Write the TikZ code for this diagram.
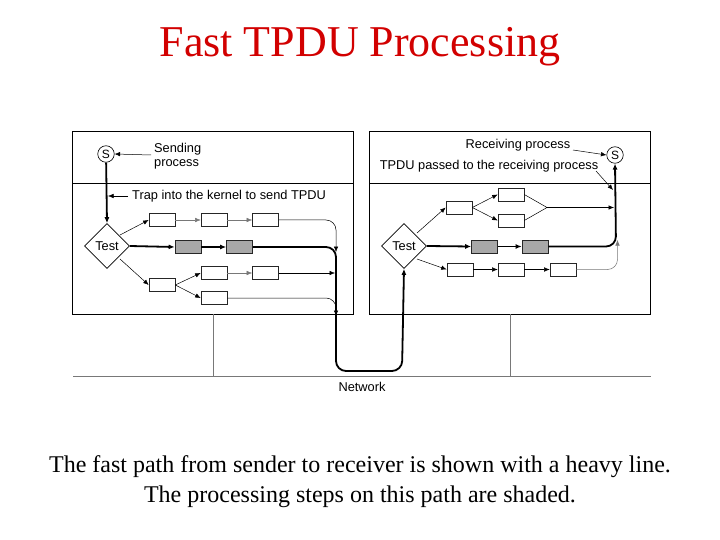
\documentclass[tikz,border=0pt]{standalone}
\usepackage{fontspec}
\setmainfont{Liberation Serif}
\newfontfamily\diagfont{Liberation Sans}
\usetikzlibrary{shapes.geometric,arrows.meta}
\definecolor{titlered}{RGB}{210,0,0}
\definecolor{shadefill}{RGB}{168,168,168}
\definecolor{thingray}{RGB}{120,120,120}
\begin{document}
\begin{tikzpicture}[x=1pt,y=-1pt,
  lbl/.style={font=\diagfont\fontsize{12.8}{14}\selectfont, inner sep=0pt},
  proc/.style={draw=black!85, rectangle, minimum width=26pt, minimum height=13pt, inner sep=0pt, line width=0.6pt, fill=white},
  shadedproc/.style={proc, fill=shadefill},
  testnode/.style={draw, diamond, shape aspect=1, minimum width=45pt, minimum height=45pt, inner sep=0pt, line width=0.6pt, font=\diagfont\fontsize{12.8}{14}\selectfont},
  procS/.style={draw, circle, minimum size=16.5pt, inner sep=0pt, line width=0.6pt, font=\diagfont\fontsize{12}{12}\selectfont},
  conn/.style={-{Latex[length=5.5pt,width=4.5pt]}, line width=0.5pt},
  gconn/.style={conn, draw=thingray},
  heavy/.style={line width=1.8pt},
  heavyarrow/.style={heavy, -{Latex[length=6pt,width=5pt]}},
  frame/.style={draw, line width=0.8pt},
  netline/.style={draw=thingray, line width=0.7pt}
]
\useasboundingbox (0,0) rectangle (720,540);

% title and caption
\node[text=titlered, font=\fontsize{44}{48}\selectfont, inner sep=0pt] (title) at (360,47) {Fast TPDU Processing};
\node[font=\fontsize{24}{30}\selectfont, align=center, inner sep=0pt] (caption) at (360,482)
  {The fast path from sender to receiver is shown with a heavy line.\\The processing steps on this path are shaded.};

% frames
\draw[frame] (72,131) rectangle (353,314);
\draw[frame] (72,183) -- (353,183);
\draw[frame] (369,131) rectangle (650,314);
\draw[frame] (369,183) -- (650,183);

% network
\draw[netline] (213,314) -- (213,376);
\draw[netline] (510,314) -- (510,376);
\draw[netline] (73,376) -- (651,376);
\node[lbl] (net) at (362,387) {Network};

% ---------------- left (sender) ----------------
\node[procS] (S1) at (106,154) {S};
\node[lbl, anchor=west, align=left] (sendtxt) at (154,156) {Sending\\process};
\node[lbl, anchor=west] (traptxt) at (132,196) {Trap into the kernel to send TPDU};
\node[testnode] (T1) at (107,246) {Test};

\node[proc] (a1) at (162,220) {};
\node[proc] (a2) at (214,220) {};
\node[proc] (a3) at (265.5,220) {};
\node[shadedproc] (b1) at (188,247) {};
\node[shadedproc] (b2) at (239.5,247) {};
\node[proc] (c1) at (162,285) {};
\node[proc] (c2) at (214,273) {};
\node[proc] (c3) at (265.5,273) {};
\node[proc] (d2) at (214,298) {};

\coordinate (t1ur) at (120,235);
\coordinate (t1lr) at (120,259);
\coordinate (trapend) at (108,196);
\coordinate (trapstart) at (128,196);
\coordinate (sendstart) at (151,155);
\coordinate (l1) at (336,220);
\coordinate (l1e) at (336,252);
\coordinate (l3e) at (335,273);
\coordinate (l4) at (336,298);
\coordinate (l4e) at (336,316);
\coordinate (u1) at (336,247);
\coordinate (u2) at (336,371);
\coordinate (u3) at (402,371);

\draw[heavyarrow] (S1) -- (T1.north);
\draw[conn] (trapstart) -- (trapend);
\draw[conn] (sendstart) -- (S1.east);
\draw[conn] (t1ur) -- (a1.west);
\draw[heavyarrow] (T1.east) -- (b1.west);
\draw[conn] (t1lr) -- (c1.west);
\draw[gconn] (a1) -- (a2);
\draw[gconn] (a2) -- (a3);
\draw[heavyarrow] (b1) -- (b2);
\draw[conn] (c1.east) -- (c2.west);
\draw[conn] (c1.east) -- (d2.west);
\draw[gconn] (c2) -- (c3);
\draw[conn, rounded corners=10pt] (a3.east) -- (l1) -- (l1e);
\draw[conn] (c3.east) -- (l3e);
\draw[conn, rounded corners=10pt] (d2.east) -- (l4) -- (l4e);

% heavy path through network
\node[testnode] (T2) at (404,246) {Test};
\draw[heavyarrow, rounded corners=10pt] (b2.east) -- (u1) -- (u2) -- (u3) -- (T2.south);

% ---------------- right (receiver) ----------------
\node[procS] (S2) at (615,155) {S};
\node[lbl] (rectxt) at (518,145) {Receiving process};
\node[lbl] (passtxt) at (489,166) {TPDU passed to the receiving process};

\node[proc] (e1) at (459,207.5) {};
\node[proc] (e2) at (511,194.5) {};
\node[proc] (e3) at (511,220.5) {};
\coordinate (m) at (547,207.5);
\node[shadedproc] (f1) at (484.5,246.5) {};
\node[shadedproc] (f2) at (535,246.5) {};
\node[proc] (g1) at (460,269.5) {};
\node[proc] (g2) at (511,269.5) {};
\node[proc] (g3) at (563,269.5) {};

\coordinate (t2ur) at (417,233);
\coordinate (t2lr) at (417,259);
\coordinate (me) at (614,207.5);
\coordinate (r2) at (616,246.5);
\coordinate (r3) at (617.5,269.5);
\coordinate (r3e) at (617.5,240);
\coordinate (recstart) at (573,150);
\coordinate (passstart) at (596,171);
\coordinate (passend) at (613,190);

\draw[conn] (t2ur) -- (e1.west);
\draw[conn] (e1.east) -- (e2.west);
\draw[conn] (e1.east) -- (e3.west);
\draw[line width=0.5pt] (e2.east) -- (m) -- (e3.east);
\draw[conn] (m) -- (me);
\draw[heavyarrow] (T2.east) -- (f1.west);
\draw[heavyarrow] (f1) -- (f2);
\draw[heavyarrow, rounded corners=10pt] (f2.east) -- (r2) -- (S2.south);
\draw[conn] (t2lr) -- (g1.west);
\draw[conn] (g1) -- (g2);
\draw[conn] (g2) -- (g3);
\draw[gconn, rounded corners=10pt] (g3.east) -- (r3) -- (r3e);
\draw[conn] (recstart) -- (S2.west);
\draw[conn] (passstart) -- (passend);
\end{tikzpicture}
\end{document}
